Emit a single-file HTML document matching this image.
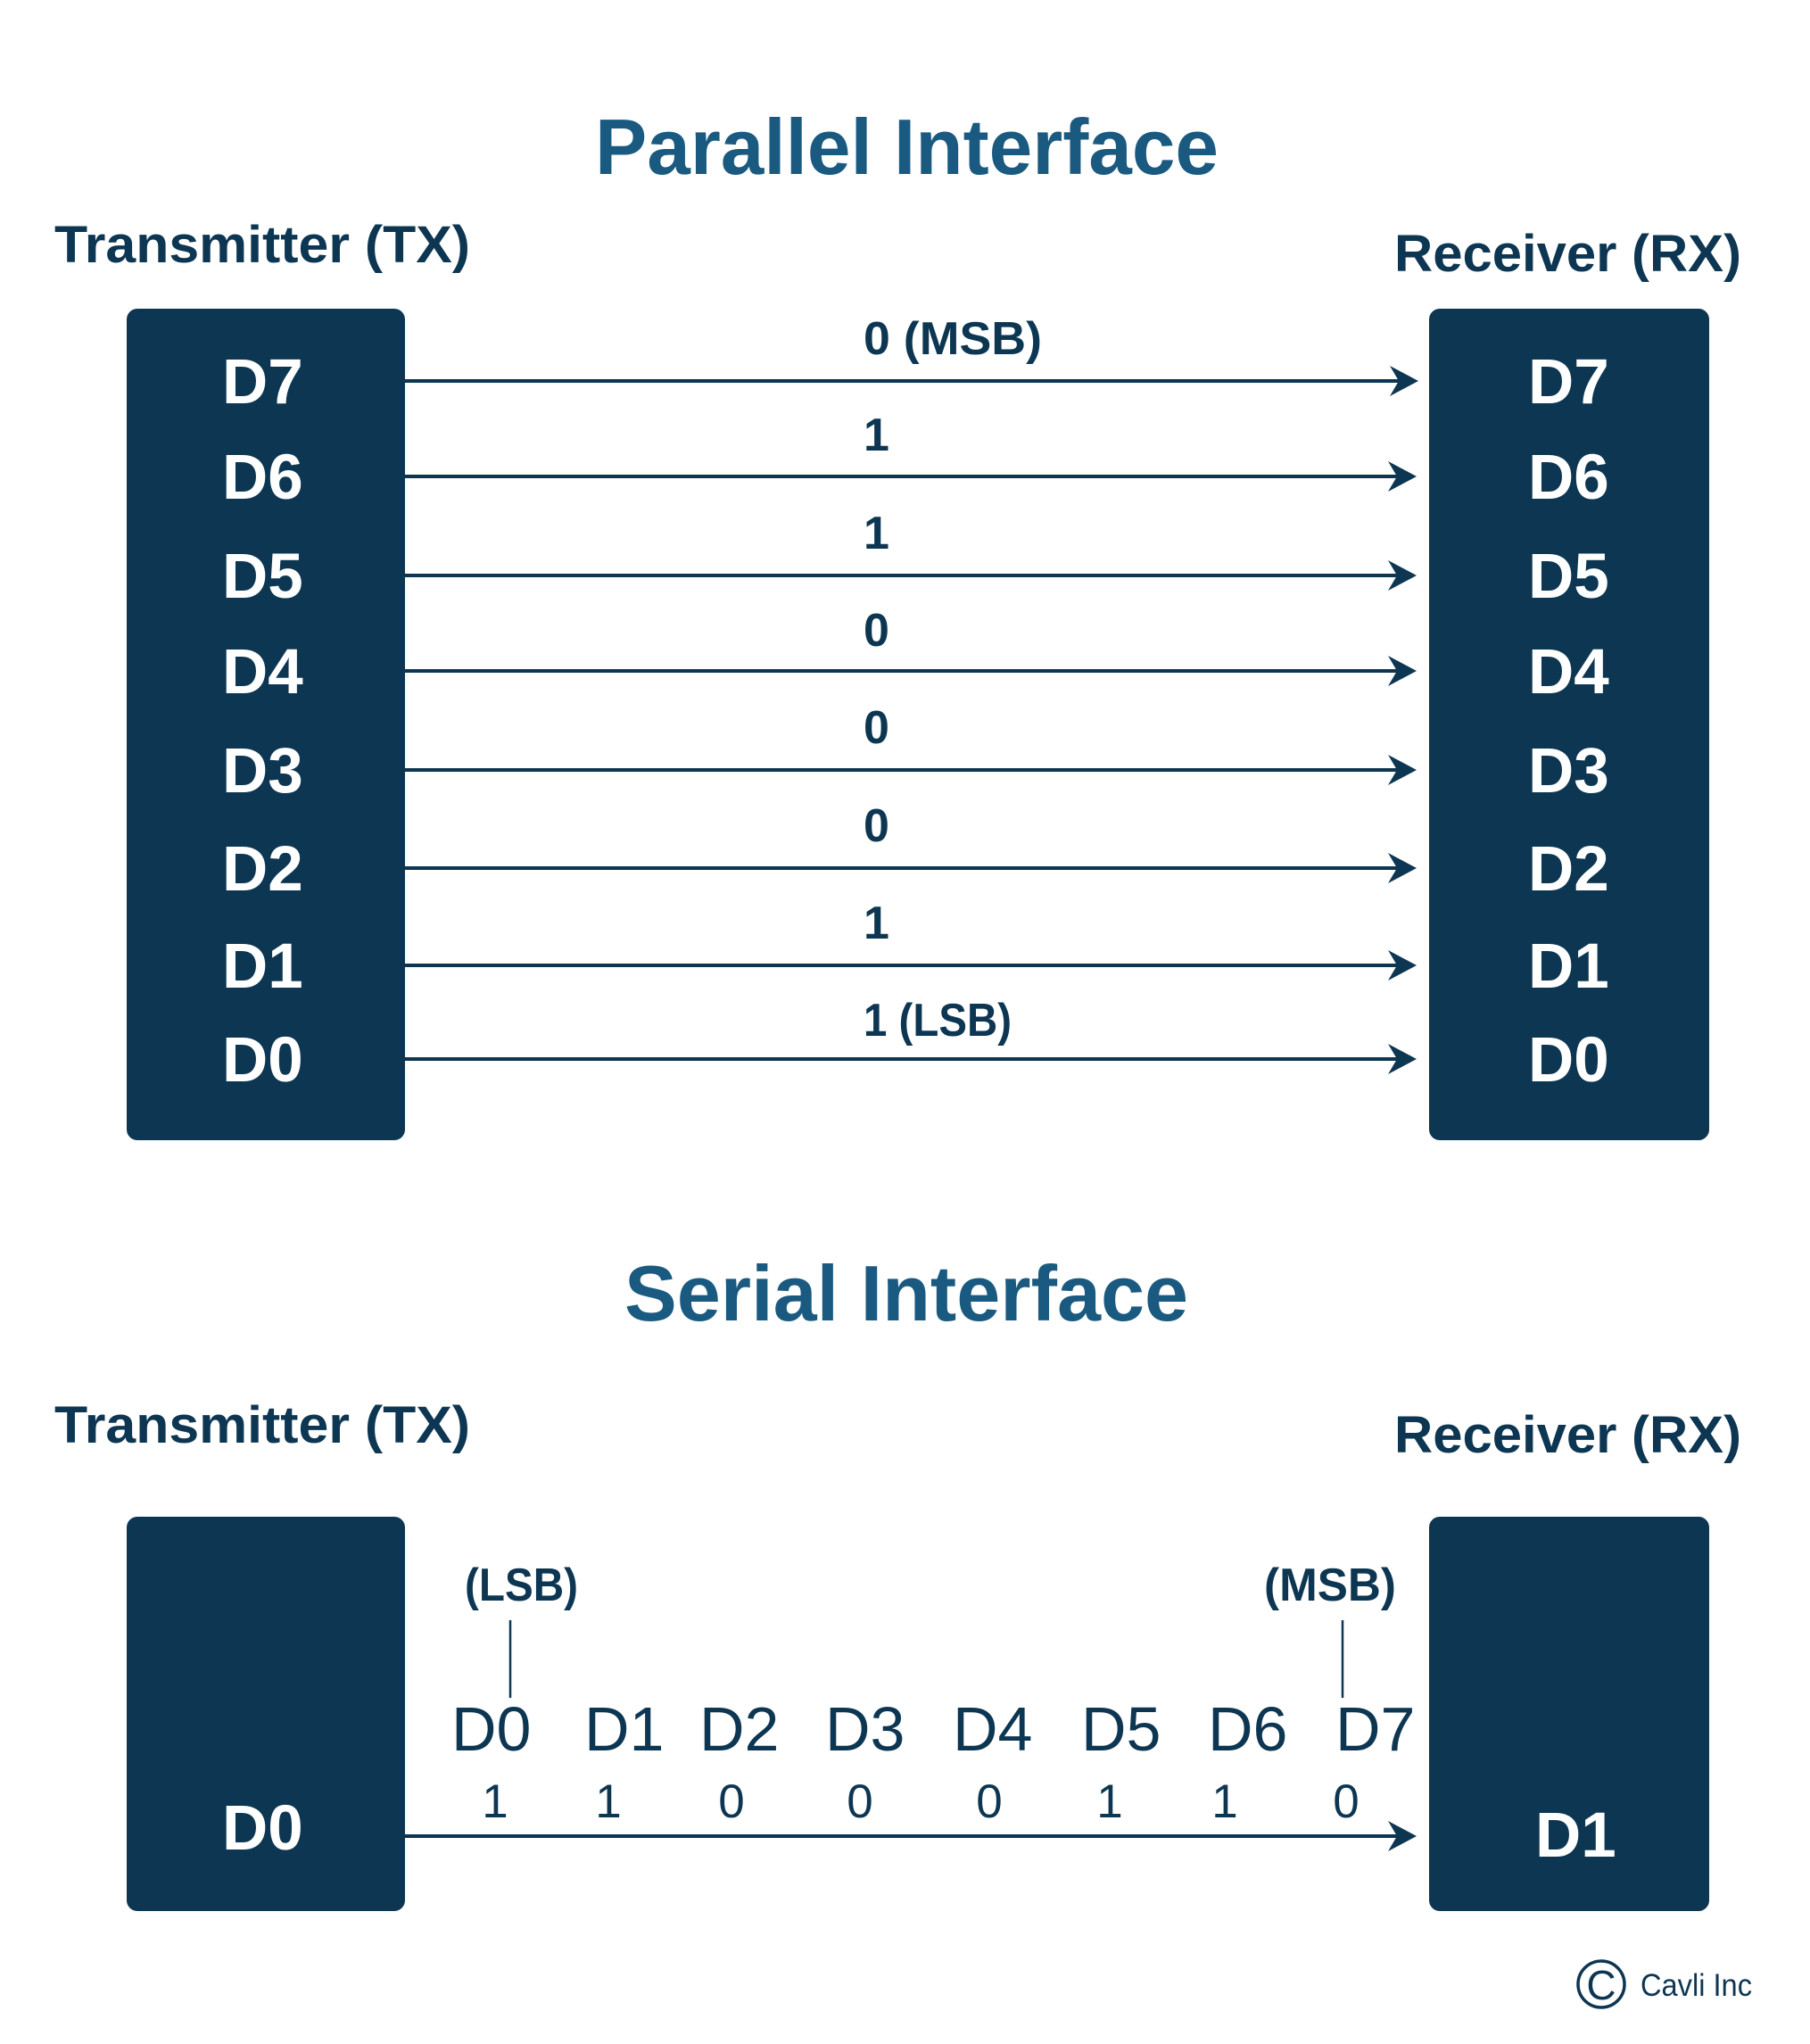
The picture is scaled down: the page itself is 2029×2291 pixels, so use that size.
<!DOCTYPE html>
<html><head><meta charset="utf-8"><style>
html,body{margin:0;padding:0;background:#fff;}
svg{display:block;}
text{font-family:"Liberation Sans",Arial,sans-serif;}
</style></head><body>
<svg width="2029" height="2291" viewBox="0 0 2029 2291" xmlns="http://www.w3.org/2000/svg">
<defs>
<g id="ah"><path d="M0 0 L-32 -17 L-22 0 L-32 17 Z" fill="#0d3652"/></g>
</defs>
<rect width="2029" height="2291" fill="#fff"/>
<text x="667" y="195" font-size="88" font-weight="bold" fill="#1a5a80" textLength="699" lengthAdjust="spacingAndGlyphs">Parallel Interface</text>
<text x="61" y="294" font-size="58" font-weight="bold" fill="#0d3652" textLength="466" lengthAdjust="spacingAndGlyphs">Transmitter (TX)</text>
<text x="1563" y="304" font-size="58" font-weight="bold" fill="#0d3652" textLength="389" lengthAdjust="spacingAndGlyphs">Receiver (RX)</text>
<rect x="142" y="346" width="312" height="932" rx="12" fill="#0d3652"/>
<rect x="1602" y="346" width="314" height="932" rx="12" fill="#0d3652"/>
<g font-size="71" font-weight="bold" fill="#fff">
<text x="249" y="452">D7</text><text x="1713" y="452">D7</text>
<text x="249" y="559">D6</text><text x="1713" y="559">D6</text>
<text x="249" y="670">D5</text><text x="1713" y="670">D5</text>
<text x="249" y="777">D4</text><text x="1713" y="777">D4</text>
<text x="249" y="888">D3</text><text x="1713" y="888">D3</text>
<text x="249" y="998">D2</text><text x="1713" y="998">D2</text>
<text x="249" y="1107">D1</text><text x="1713" y="1107">D1</text>
<text x="249" y="1212">D0</text><text x="1713" y="1212">D0</text>
</g>
<g stroke="#0d3652" stroke-width="4">
<line x1="454" y1="427" x2="1578" y2="427"/>
<line x1="454" y1="534" x2="1576" y2="534"/>
<line x1="454" y1="645" x2="1576" y2="645"/>
<line x1="454" y1="752" x2="1576" y2="752"/>
<line x1="454" y1="863" x2="1576" y2="863"/>
<line x1="454" y1="973" x2="1576" y2="973"/>
<line x1="454" y1="1082" x2="1576" y2="1082"/>
<line x1="454" y1="1187" x2="1576" y2="1187"/>
<line x1="454" y1="2058" x2="1576" y2="2058"/>
</g>
<use href="#ah" x="1590" y="427"/><use href="#ah" x="1588" y="534"/>
<use href="#ah" x="1588" y="645"/><use href="#ah" x="1588" y="752"/>
<use href="#ah" x="1588" y="863"/><use href="#ah" x="1588" y="973"/>
<use href="#ah" x="1588" y="1082"/><use href="#ah" x="1588" y="1187"/>
<use href="#ah" x="1588" y="2058"/>
<g font-size="52" font-weight="bold" fill="#0d3652">
<text x="968" y="397" textLength="200" lengthAdjust="spacingAndGlyphs">0 (MSB)</text>
<text x="968" y="505">1</text>
<text x="968" y="615">1</text>
<text x="968" y="724">0</text>
<text x="968" y="833">0</text>
<text x="968" y="943">0</text>
<text x="968" y="1052">1</text>
<text x="968" y="1161" textLength="166" lengthAdjust="spacingAndGlyphs">1 (LSB)</text>
</g>
<text x="700" y="1480" font-size="88" font-weight="bold" fill="#1a5a80" textLength="632" lengthAdjust="spacingAndGlyphs">Serial Interface</text>
<text x="61" y="1617" font-size="58" font-weight="bold" fill="#0d3652" textLength="466" lengthAdjust="spacingAndGlyphs">Transmitter (TX)</text>
<text x="1563" y="1628" font-size="58" font-weight="bold" fill="#0d3652" textLength="389" lengthAdjust="spacingAndGlyphs">Receiver (RX)</text>
<rect x="142" y="1700" width="312" height="442" rx="12" fill="#0d3652"/>
<rect x="1602" y="1700" width="314" height="442" rx="12" fill="#0d3652"/>
<text x="249" y="2073" font-size="71" font-weight="bold" fill="#fff">D0</text>
<text x="1721" y="2081" font-size="71" font-weight="bold" fill="#fff">D1</text>
<g font-size="52" font-weight="bold" fill="#0d3652">
<text x="521" y="1794" textLength="127" lengthAdjust="spacingAndGlyphs">(LSB)</text>
<text x="1417" y="1794" textLength="148" lengthAdjust="spacingAndGlyphs">(MSB)</text>
</g>
<line x1="572" y1="1816" x2="572" y2="1903" stroke="#0d3652" stroke-width="2.5"/>
<line x1="1505" y1="1816" x2="1505" y2="1903" stroke="#0d3652" stroke-width="2.5"/>
<g font-size="70" fill="#0d3652">
<text x="506" y="1962">D0</text><text x="655" y="1962">D1</text>
<text x="784" y="1962">D2</text><text x="925" y="1962">D3</text>
<text x="1068" y="1962">D4</text><text x="1212" y="1962">D5</text>
<text x="1354" y="1962">D6</text><text x="1497" y="1962">D7</text>
</g>
<g font-size="53" fill="#0d3652" text-anchor="middle">
<text x="555" y="2037">1</text><text x="682" y="2037">1</text>
<text x="820" y="2037">0</text><text x="964" y="2037">0</text>
<text x="1109" y="2037">0</text><text x="1244" y="2037">1</text>
<text x="1373" y="2037">1</text><text x="1509" y="2037">0</text>
</g>
<circle cx="1795" cy="2224" r="26" fill="none" stroke="#0d3652" stroke-width="3.5"/>
<text x="1795" y="2241" font-size="46" fill="#0d3652" text-anchor="middle">C</text>
<text x="1839" y="2237" font-size="35" fill="#0d3652" textLength="125" lengthAdjust="spacingAndGlyphs">Cavli Inc</text>
</svg>
</body></html>
